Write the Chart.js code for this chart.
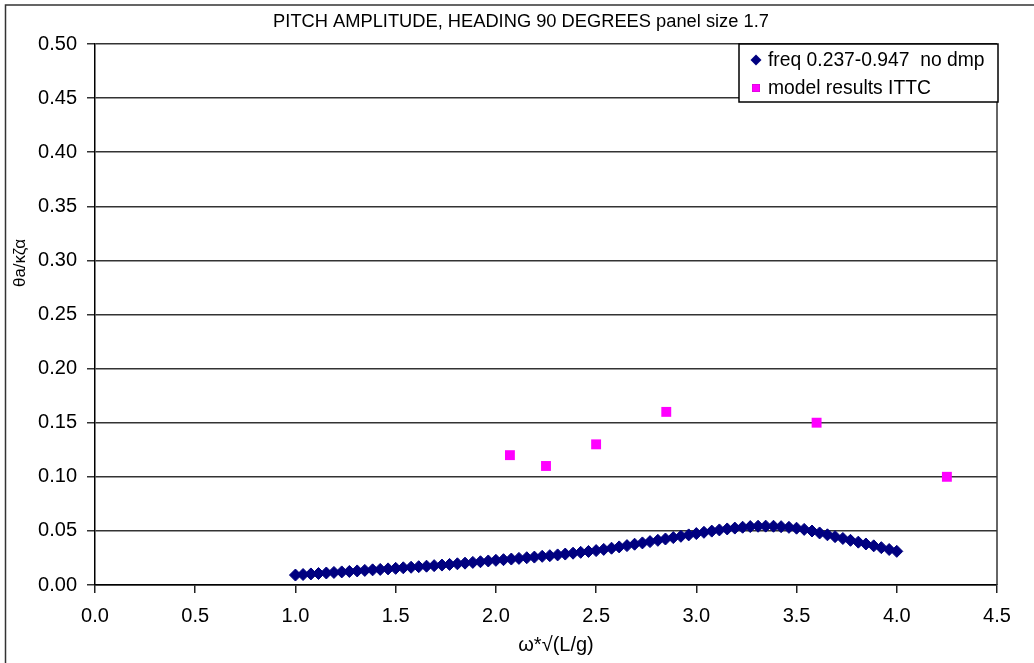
<!DOCTYPE html>
<html>
<head>
<meta charset="utf-8">
<title>Pitch amplitude</title>
<script src="https://cdn.jsdelivr.net/npm/chart.js@4/dist/chart.umd.min.js"></script>
<style>
    body { margin: 0; background: #fff; }
    canvas { display: block; }
</style>
</head>
<body>
<canvas id="pitchChart" width="1034" height="663"></canvas>
<script>
// Berechnete Kurve (freq 0.237-0.947, ohne Dämpfung)
const calcX = [
    1.000, 1.038, 1.077, 1.115, 1.154, 1.192, 1.231, 1.269, 1.308, 1.346,
    1.385, 1.423, 1.462, 1.500, 1.538, 1.577, 1.615, 1.654, 1.692, 1.731,
    1.769, 1.808, 1.846, 1.885, 1.923, 1.962, 2.000, 2.038, 2.077, 2.115,
    2.154, 2.192, 2.231, 2.269, 2.308, 2.346, 2.385, 2.423, 2.462, 2.500,
    2.538, 2.577, 2.615, 2.654, 2.692, 2.731, 2.769, 2.808, 2.846, 2.885,
    2.923, 2.962, 3.000, 3.038, 3.077, 3.115, 3.154, 3.192, 3.231, 3.269,
    3.308, 3.346, 3.385, 3.423, 3.462, 3.500, 3.538, 3.577, 3.615, 3.654,
    3.692, 3.731, 3.769, 3.808, 3.846, 3.885, 3.923, 3.962, 4.000
];
const calcY = [
    0.0092, 0.0097, 0.0102, 0.0106, 0.0111, 0.0116, 0.0121, 0.0125, 0.0130, 0.0135,
    0.0140, 0.0144, 0.0149, 0.0154, 0.0159, 0.0164, 0.0169, 0.0174, 0.0179, 0.0184,
    0.0190, 0.0196, 0.0202, 0.0209, 0.0215, 0.0222, 0.0228, 0.0234, 0.0240, 0.0246,
    0.0252, 0.0258, 0.0265, 0.0271, 0.0278, 0.0286, 0.0294, 0.0302, 0.0310, 0.0318,
    0.0329, 0.0340, 0.0352, 0.0364, 0.0377, 0.0389, 0.0401, 0.0413, 0.0425, 0.0438,
    0.0450, 0.0463, 0.0475, 0.0487, 0.0498, 0.0509, 0.0518, 0.0526, 0.0534, 0.0540,
    0.0543, 0.0544, 0.0543, 0.0539, 0.0533, 0.0525, 0.0514, 0.0499, 0.0481, 0.0464,
    0.0447, 0.0430, 0.0413, 0.0396, 0.0379, 0.0362, 0.0345, 0.0328, 0.0311
];

// Modellversuche ITTC
const ittcX = [2.07, 2.25, 2.50, 2.85, 3.60, 4.25];
const ittcY = [0.12, 0.11, 0.13, 0.16, 0.15, 0.10];

const seriesLabels = ['freq 0.237-0.947  no dmp', 'model results ITTC'];
const chartTitle = 'PITCH AMPLITUDE, HEADING 90 DEGREES panel size 1.7';
const xTitle = 'ω*√(L/g)';
const yTitle = 'θa/κζα';

const FONT = "'Liberation Sans', Arial, sans-serif";

function toPoints(xs, ys) {
    return xs.map((x, i) => ({ x: x, y: ys[i] }));
}

// Titel, Rahmen und Legende direkt auf den Canvas zeichnen
const decorations = {
    id: 'decorations',
    beforeDraw(chart) {
        const ctx = chart.ctx;
        ctx.save();
        ctx.fillStyle = '#fff';
        ctx.fillRect(0, 0, chart.width, chart.height);
        ctx.restore();
    },
    afterDraw(chart) {
        const ctx = chart.ctx;
        const area = chart.chartArea;
        ctx.save();

        // äußerer Rahmen
        ctx.strokeStyle = '#333';
        ctx.lineWidth = 1.5;
        ctx.strokeRect(5.5, 5, chart.width + 10, chart.height + 10);

        // rechter Rand der Zeichenfläche
        ctx.lineWidth = 1.5;
        ctx.beginPath();
        ctx.moveTo(area.right, area.top);
        ctx.lineTo(area.right, area.bottom);
        ctx.stroke();

        ctx.fillStyle = '#000';
        ctx.textBaseline = 'middle';
        ctx.textAlign = 'center';
        ctx.font = '18.3px ' + FONT;
        ctx.fillText(chartTitle, 521, 22);

        ctx.font = '20px ' + FONT;
        ctx.fillText(xTitle, 556, 645);

        ctx.save();
        ctx.translate(20, 263);
        ctx.rotate(-Math.PI / 2);
        ctx.font = '17px ' + FONT;
        ctx.fillText(yTitle, 0, 0);
        ctx.restore();

        // Legende
        const box = { left: 739, top: 44, width: 259, height: 58 };
        ctx.fillStyle = '#fff';
        ctx.fillRect(box.left, box.top, box.width, box.height);
        ctx.strokeStyle = '#000';
        ctx.lineWidth = 1.5;
        ctx.strokeRect(box.left, box.top, box.width, box.height);

        ctx.font = '19.3px ' + FONT;
        ctx.textAlign = 'left';
        chart.data.datasets.forEach((ds, i) => {
            const y = box.top + 16 + i * 28;
            Chart.helpers.drawPoint(ctx, {
                pointStyle: ds.pointStyle,
                radius: i === 0 ? 5.5 : 5.5,
                borderWidth: 0
            }, 756, y);
            ctx.fillStyle = ds.backgroundColor;
            ctx.fill();
            ctx.fillStyle = '#000';
            ctx.fillText(ds.label, 768, y + 1);
        });

        ctx.restore();
    }
};

const ctx = document.getElementById('pitchChart').getContext('2d');
const pitchChart = new Chart(ctx, {
    type: 'scatter',
    data: {
        datasets: [{
            label: seriesLabels[0],
            data: toPoints(calcX, calcY),
            pointStyle: 'rectRot',
            pointRadius: 6,
            backgroundColor: '#000080',
            borderColor: '#000080',
            borderWidth: 1
        }, {
            label: seriesLabels[1],
            data: toPoints(ittcX, ittcY),
            pointStyle: 'rect',
            pointRadius: 7,
            backgroundColor: '#ff00ff',
            borderColor: '#ff00ff',
            borderWidth: 0
        }]
    },
    options: {
        responsive: false,
        animation: false,
        layout: {
            padding: { left: 0, top: 44, right: 37, bottom: 0 }
        },
        plugins: {
            legend: { display: false },
            tooltip: { enabled: false }
        },
        scales: {
            x: {
                type: 'linear',
                min: 0,
                max: 4.5,
                afterFit: scale => { scale.height = 78; },
                ticks: {
                    stepSize: 0.5,
                    padding: 11,
                    color: '#000',
                    font: { family: FONT, size: 20 },
                    callback: v => v.toFixed(1)
                },
                grid: {
                    drawOnChartArea: false,
                    drawTicks: true,
                    tickLength: 8,
                    color: '#222',
                    lineWidth: 1.5
                },
                border: { color: '#000', width: 1.5 }
            },
            y: {
                min: 0,
                max: 0.5,
                afterFit: scale => { scale.width = 95; },
                ticks: {
                    stepSize: 0.05,
                    padding: 10,
                    color: '#000',
                    font: { family: FONT, size: 20 },
                    callback: v => v.toFixed(2)
                },
                grid: {
                    tickLength: 8,
                    color: '#333',
                    lineWidth: 1.5
                },
                border: { color: '#000', width: 1.5 }
            }
        }
    },
    plugins: [decorations]
});
</script>
</body>
</html>
